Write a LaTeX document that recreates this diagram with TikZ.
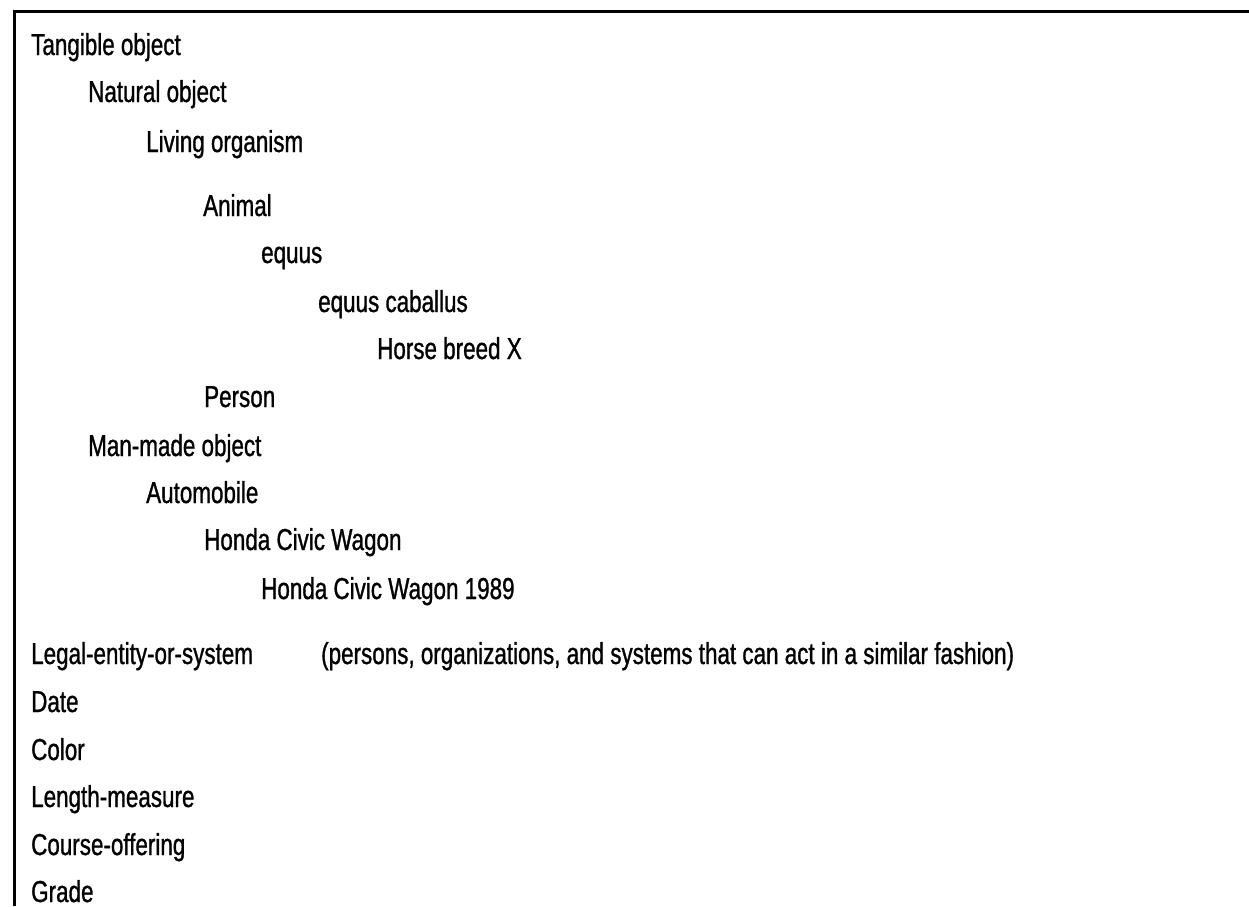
\documentclass[tikz,border=0pt]{standalone}
\usepackage{fontspec}
\setmainfont[FakeStretch=0.74, FakeBold=1.0]{Liberation Sans}
\tikzset{
	voce/.style={anchor=base west, inner sep=0pt, font=\fontsize{30.3}{34}\selectfont},
	cornice/.style={line width=3.3pt}
}
\begin{document}
\begin{tikzpicture}[x=1pt, y=-1pt]
		\useasboundingbox (0,0) rectangle (1249,906);
		
		% cornice
		\coordinate (basso) at (14.3,906);
		\coordinate (angolo) at (14.3,11.7);
		\coordinate (destra) at (1249,11.7);
		\draw[cornice] (basso) -- (angolo) -- (destra);
		
		% oggetti tangibili
		\node[voce] (tangible) at (31,55) {Tangible object};
		\node[voce] (natural) at (88,102) {Natural object};
		\node[voce] (living) at (146,152) {Living organism};
		\node[voce] (animal) at (203,216) {Animal};
		\node[voce] (equus) at (261,263) {equus};
		\node[voce] (caballus) at (318,312) {equus caballus};
		\node[voce] (breedx) at (377,359) {Horse breed X};
		\node[voce] (person) at (204,407) {Person};
		\node[voce] (manmade) at (88,456) {Man-made object};
		\node[voce] (auto) at (146,503) {Automobile};
		\node[voce] (civic) at (204,550) {Honda Civic Wagon};
		\node[voce] (civicold) at (261,599) {Honda Civic Wagon 1989};
		
		% altre classi
		\node[voce] (legal) at (31,664) {Legal-entity-or-system};
		\node[voce] (legalnote) at (321,664) {(persons, organizations, and systems that can act in a similar fashion)};
		\node[voce] (date) at (31,712) {Date};
		\node[voce] (color) at (31,760) {Color};
		\node[voce] (length) at (31,807) {Length-measure};
		\node[voce] (course) at (31,855) {Course-offering};
		\node[voce] (grade) at (31,902) {Grade};
		
	\end{tikzpicture}
\end{document}
